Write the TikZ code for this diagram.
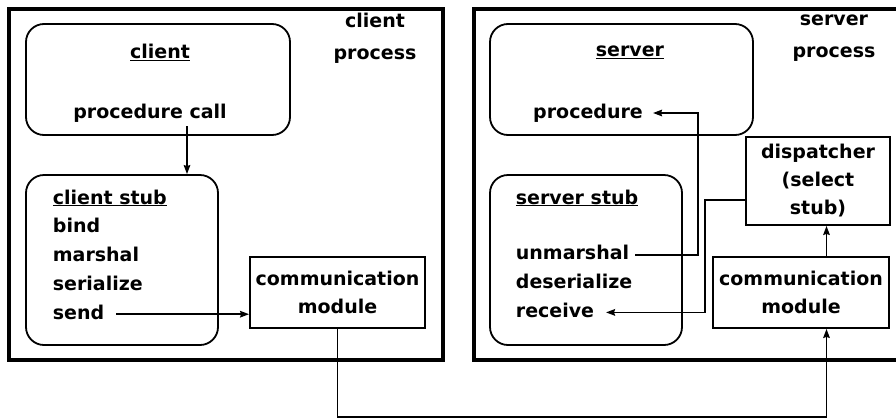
\documentclass[tikz,border=0pt]{standalone}
\usepackage{fontspec}
\setmainfont{DejaVu Sans}
\usetikzlibrary{arrows.meta, positioning}

\begin{document}
\begin{tikzpicture}[x=1pt, y=-1pt, >={Stealth[length=9pt, width=6.5pt, inset=1pt]}, line width=1.8pt,
    font=\fontsize{19}{28}\selectfont\bfseries]
    % Definición de estilos para procesos, partes y bloques
    \tikzstyle{process} = [draw, rectangle, line width=4pt, inner sep=0pt]
    \tikzstyle{part} = [draw, rectangle, rounded corners=18pt, inner sep=0pt]
    \tikzstyle{block} = [draw, rectangle, align=center, inner sep=0pt]
    \tikzstyle{title} = [align=center, inner sep=0pt]
    \tikzstyle{entry} = [anchor=west, inner xsep=5pt, inner ysep=0pt, text height=14pt, text depth=4pt] % Líneas de texto del stub

    \useasboundingbox (0,0) rectangle (896,418);

    % Proceso cliente
    \node[process, minimum width=434pt, minimum height=351pt] (cproc) at (226,184.5) {};
    \node[title] (clabel) at (375,38) {client\\[4pt]process};
    \node[part, minimum width=264pt, minimum height=111pt] (client) at (158,79.5) {};
    \node (clientname) at (160,52) {\underline{client}};
    \node (call) at (150,113) {procedure call};
    \node[part, minimum width=192pt, minimum height=170pt] (cstub) at (122,260) {};
    \node[entry] (cstubname) at (47,199) {\underline{client stub}};
    \node[entry, below=9pt of cstubname.south west, anchor=north west] (bind) {bind};
    \node[entry, below=9pt of bind.south west, anchor=north west] (marshal) {marshal};
    \node[entry, below=9pt of marshal.south west, anchor=north west] (serialize) {serialize};
    \node[entry, below=9pt of serialize.south west, anchor=north west] (send) {send};
    \node[block, minimum width=175pt, minimum height=71pt] (ccomm) at (337.5,292.5) {communication\\module};

    % Proceso servidor
    \node[process, minimum width=424pt, minimum height=351pt] (sproc) at (686,184.5) {};
    \node[title] (slabel) at (834,38) {server\\[4pt]process};
    \node[part, minimum width=263pt, minimum height=111pt] (server) at (621.5,79.5) {};
    \node (servername) at (630,52) {\underline{server}};
    \node (proc) at (588,113) {procedure};
    \node[part, minimum width=192pt, minimum height=170pt] (sstub) at (586,260) {};
    \node[entry] (sstubname) at (510,199) {\underline{server stub}};
    \node[entry, below=36pt of sstubname.south west, anchor=north west] (unmarshal) {unmarshal};
    \node[entry, below=9pt of unmarshal.south west, anchor=north west] (deserialize) {deserialize};
    \node[entry, below=9pt of deserialize.south west, anchor=north west] (receive) {receive};
    \node[block, minimum width=144pt, minimum height=88pt] (disp) at (818,181) {dispatcher\\(select\\stub)};
    \node[block, minimum width=176pt, minimum height=71pt] (scomm) at (801,292.5) {communication\\module};
    \coordinate (bend) at (698,248); % Codo de la llamada hacia arriba

    \draw[->] ([xshift=37pt]call.south) -- ([xshift=37pt]call.south |- cstub.north);
    \draw[->] ([xshift=6pt]send.east) -- (send.east -| ccomm.west);
    \draw[->] (ccomm.south) -- ++(0,88) -| ([xshift=25.5pt]scomm.south); % Mensaje por la red
    \draw[->] ([xshift=25.5pt]scomm.north) -- ([xshift=25.5pt]scomm.north |- disp.south);
    \draw[->] ([yshift=-19pt]disp.west) -- ++(-40,0) |- ([xshift=6pt]receive.east);
    \draw[->] (unmarshal.east) -- (unmarshal.east -| bend) |- ([xshift=6pt]proc.east);

\end{tikzpicture}
\end{document}
